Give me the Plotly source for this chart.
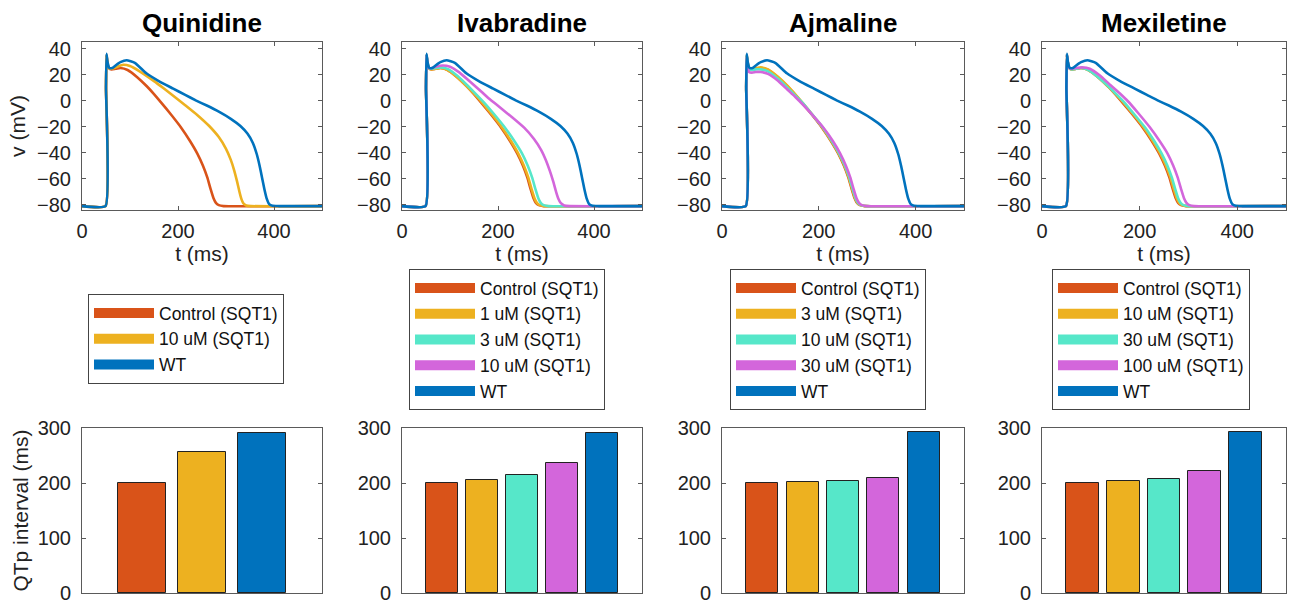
import plotly.graph_objects as go

W, H = 1291, 607
FONT = "Liberation Sans, Arial, Helvetica, sans-serif"

# ---------------- data ----------------
DRUGS = ["Quinidine", "Ivabradine", "Ajmaline", "Mexiletine"]

# Control (SQT1)
T_CTRL = [0, 49, 50, 51, 53, 56, 62, 70, 80, 95, 115, 135, 150, 165, 185, 207, 225, 240, 252, 261, 268, 274, 279, 285, 295, 500]
V_CTRL = [-81, -81, 10, 35, 29, 25, 24, 24.5, 25, 23.5, 18, 11, 5, -1.5, -10.5, -21, -31, -40.5, -50, -59, -68, -75, -78.5, -80.3, -81, -81]
# WT
T_WT = [0, 49, 50, 51, 53, 57, 63, 70, 80, 93, 110, 134, 160, 190, 215, 238, 260, 285, 310, 330, 345, 356, 364, 370, 375, 380, 385, 390, 397, 410, 500]
V_WT = [-81, -81, 10, 36, 30, 25, 25, 27, 29.5, 31, 29, 21, 15, 9.2, 4.4, 0, -3.8, -8.5, -14, -19.5, -25.5, -32.5, -41, -50, -59, -68, -75.5, -79.5, -80.8, -81, -81]
# Quinidine 10 uM
T_Q10 = [0, 49, 50, 51, 53, 56, 62, 70, 86, 100, 120, 150, 170, 190, 215, 240, 265, 285, 300, 310, 317, 323, 328, 332, 336, 342, 352, 500]
V_Q10 = [-81, -81, 10, 35, 29, 25, 24.5, 25.5, 27.5, 26.5, 22.5, 15, 9.5, 3.8, -3.5, -11, -19.5, -28, -37, -45.5, -53.5, -62, -70, -75.5, -78.8, -80.5, -81, -81]
# Ivabradine
T_I1 = [0, 49, 50, 51, 53, 56, 62, 70, 80, 95, 115, 135, 151, 167, 187, 209, 227, 242, 254, 263, 270, 276, 281, 287, 297, 500]
V_I1 = [-81, -81, 10, 35, 29, 25, 24, 24.5, 25, 23.5, 18, 11, 5, -1.5, -10.5, -21, -31, -40.5, -50, -59, -68, -75, -78.5, -80.3, -81, -81]
T_I3 = [0, 49, 50, 51, 53, 56, 62, 70, 82, 97, 117, 138, 154, 171, 192, 215, 234, 250, 262, 271, 278, 284, 289, 295, 305, 500]
V_I3 = [-81, -81, 10, 35, 29, 25, 24.5, 25, 25.5, 24, 18.5, 11, 5, -1.5, -10.5, -21, -31, -40.5, -50, -59, -68, -75, -78.5, -80.3, -81, -81]
T_I10 = [0, 49, 50, 51, 53, 56, 62, 70, 85, 100, 120, 145, 165, 183, 205, 230, 255, 275, 290, 300, 308, 315, 321, 326, 331, 338, 350, 500]
V_I10 = [-81, -81, 10, 35, 29, 25, 25, 26, 27, 26, 21.5, 13.5, 7, 1, -5.5, -13, -21, -29.5, -38, -46, -54, -62, -70, -75.5, -78.8, -80.5, -81, -81]
# Ajmaline
T_A3 = [0, 49, 50, 51, 53, 56, 62, 70, 80, 95, 115, 135, 151, 166, 186, 208, 226, 241, 253, 262, 269, 275, 280, 286, 296, 500]
V_A3 = [-81, -81, 10, 35, 29, 25, 24.5, 25, 25.5, 24, 18.5, 11.5, 5, -1.5, -10.5, -21, -31, -40.5, -50, -59, -68, -75, -78.5, -80.3, -81, -81]
T_A10 = [0, 49, 50, 51, 53, 56, 62, 70, 80, 95, 115, 135, 151, 167, 187, 209, 227, 242, 254, 263, 270, 276, 281, 287, 297, 500]
V_A10 = [-81, -81, 10, 35, 28, 24, 23.5, 24, 24, 22.5, 17, 10, 4, -2, -11, -21, -31, -40.5, -50, -59, -68, -75, -78.5, -80.3, -81, -81]
T_A30 = [0, 49, 50, 51, 53, 56, 62, 70, 80, 95, 115, 135, 151, 167, 188, 210, 229, 244, 256, 265, 272, 278, 283, 289, 299, 500]
V_A30 = [-81, -81, 10, 34, 26, 22, 21.5, 22, 22, 20.5, 15.5, 8.5, 3, -3, -11.5, -21, -31, -40.5, -50, -59, -68, -75, -78.5, -80.3, -81, -81]
# Mexiletine
T_M10 = [0, 49, 50, 51, 53, 56, 62, 70, 80, 95, 115, 135, 151, 167, 187, 209, 227, 242, 254, 263, 270, 276, 281, 287, 297, 500]
V_M10 = [-81, -81, 10, 35, 29, 25, 24, 24.5, 25, 23.5, 18, 11, 5, -1.5, -10.5, -21, -31, -40.5, -50, -59, -68, -75, -78.5, -80.3, -81, -81]
T_M30 = [0, 49, 50, 51, 53, 56, 62, 70, 80, 95, 115, 136, 152, 169, 189, 212, 230, 245, 257, 266, 273, 279, 284, 290, 300, 500]
V_M30 = [-81, -81, 10, 35, 29, 25, 24, 24.5, 25, 23.5, 18, 11, 5, -1.5, -10.5, -21, -31, -40.5, -50, -59, -68, -75, -78.5, -80.3, -81, -81]
T_M100 = [0, 49, 50, 51, 53, 56, 62, 70, 82, 98, 118, 140, 158, 176, 197, 221, 241, 257, 269, 278, 285, 291, 296, 302, 312, 500]
V_M100 = [-81, -81, 10, 35, 29, 25, 24.5, 25, 25.5, 24.5, 19.5, 12, 6, -0.5, -9.5, -20.5, -31, -40.5, -50, -59, -68, -75, -78.5, -80.3, -81, -81]

LABELS_Q = ["Control (SQT1)", "10 uM (SQT1)", "WT"]
LABELS_I = ["Control (SQT1)", "1 uM (SQT1)", "3 uM (SQT1)", "10 uM (SQT1)", "WT"]
LABELS_A = ["Control (SQT1)", "3 uM (SQT1)", "10 uM (SQT1)", "30 uM (SQT1)", "WT"]
LABELS_M = ["Control (SQT1)", "10 uM (SQT1)", "30 uM (SQT1)", "100 uM (SQT1)", "WT"]

QTP_Q = [200, 257, 291]
QTP_I = [200, 206, 215, 237, 291]
QTP_A = [200, 201, 204, 209, 292]
QTP_M = [200, 203, 208, 221, 292]

X_TICKS = [0, 200, 400]
V_TICKS = [-80, -60, -40, -20, 0, 20, 40]
QTP_TICKS = [0, 100, 200, 300]

# ---------------- styling ----------------
C_CTRL = "#D95319"
C_YEL = "#EDB120"
C_TEAL = "#56E7C9"
C_MAG = "#D366DB"
C_WT = "#0072BD"
COL3 = [C_CTRL, C_YEL, C_WT]
COL5 = [C_CTRL, C_YEL, C_TEAL, C_MAG, C_WT]

panels = [
    (DRUGS[0], [(T_CTRL, V_CTRL), (T_Q10, V_Q10), (T_WT, V_WT)], LABELS_Q, QTP_Q, COL3),
    (DRUGS[1], [(T_CTRL, V_CTRL), (T_I1, V_I1), (T_I3, V_I3), (T_I10, V_I10), (T_WT, V_WT)], LABELS_I, QTP_I, COL5),
    (DRUGS[2], [(T_CTRL, V_CTRL), (T_A3, V_A3), (T_A10, V_A10), (T_A30, V_A30), (T_WT, V_WT)], LABELS_A, QTP_A, COL5),
    (DRUGS[3], [(T_CTRL, V_CTRL), (T_M10, V_M10), (T_M30, V_M30), (T_M100, V_M100), (T_WT, V_WT)], LABELS_M, QTP_M, COL5),
]

X_PX = [(82, 322), (402, 642), (722, 964), (1042, 1286)]
TOP_PX = (42, 210)
BOT_PX = (428, 593)
LEG_PX = [(88, 294), (409, 269), (730, 269), (1052, 269)]

def xd(a, b):
    return [a / W, b / W]

def yd(top, bot):
    return [1 - bot / H, 1 - top / H]

AX_COLOR = "#5a5a5a"
common = dict(showline=True, linecolor=AX_COLOR, linewidth=1, mirror="ticks",
              ticks="inside", ticklen=4, tickcolor=AX_COLOR, showgrid=False,
              zeroline=False, automargin=False,
              tickfont=dict(size=20, color="#222", family=FONT))

fig = go.Figure()
layout = dict(width=W, height=H, margin=dict(l=0, r=0, t=0, b=0, autoexpand=False),
              paper_bgcolor="white", plot_bgcolor="white", showlegend=True,
              font=dict(family=FONT, color="#222"))
annotations = []

for i, (name, curves, labels, qtp, cols) in enumerate(panels):
    top_x = f"x{i + 1}"
    top_y = f"y{i + 1}"
    bot_x = f"x{i + 5}"
    bot_y = f"y{i + 5}"
    leg = "legend" if i == 0 else f"legend{i + 1}"
    for (t, v), c in zip(curves, cols):
        fig.add_trace(go.Scatter(x=t, y=v, mode="lines", line=dict(color=c, width=2.6, shape="spline", smoothing=0.4),
                                 xaxis=top_x, yaxis=top_y, showlegend=False, hoverinfo="skip"))
    for lab, c in zip(labels, cols):
        fig.add_trace(go.Scatter(x=[None], y=[None], mode="lines", line=dict(color=c, width=10),
                                 name=lab, legend=leg, xaxis=top_x, yaxis=top_y))
    fig.add_trace(go.Bar(x=list(range(1, len(qtp) + 1)), y=qtp, width=0.8,
                         marker=dict(color=cols, line=dict(color="#222", width=1)),
                         xaxis=bot_x, yaxis=bot_y, showlegend=False))

    a, b = X_PX[i]
    k = "" if i == 0 else str(i + 1)
    layout[f"xaxis{k}"] = dict(common, domain=xd(a, b), anchor=top_y, range=[0, 500],
                               tickvals=X_TICKS, ticklabelstandoff=3,
                               title=dict(text="t (ms)", font=dict(size=21, color="#222"), standoff=4))
    layout[f"yaxis{k}"] = dict(common, domain=yd(*TOP_PX), anchor=top_x, range=[-84, 45],
                               tickvals=V_TICKS, ticklabelstandoff=6)
    if i == 0:
        layout[f"yaxis{k}"]["title"] = dict(text="v (mV)", font=dict(size=21, color="#222"), standoff=5)
    kb = str(i + 5)
    layout[f"xaxis{kb}"] = dict(common, domain=xd(a, b), anchor=bot_y, range=[0, len(qtp) + 1],
                                ticks="", showticklabels=False)
    layout[f"yaxis{kb}"] = dict(common, domain=yd(*BOT_PX), anchor=bot_x, range=[0, 300],
                                tickvals=QTP_TICKS, ticklabelstandoff=6)
    if i == 0:
        layout[f"yaxis{kb}"]["title"] = dict(text="QTp interval (ms)", font=dict(size=21, color="#222"), standoff=3)

    lx, ly = LEG_PX[i]
    layout[leg] = dict(x=lx / W, y=1 - ly / H, xanchor="left", yanchor="top",
                       bordercolor="#444", borderwidth=1, bgcolor="white",
                       font=dict(size=17.5, color="#111", family=FONT),
                       itemwidth=60, tracegroupgap=0, traceorder="normal")

    annotations.append(dict(text=f"<b>{name}</b>", x=(a + b) / 2 / W, y=1 - 23 / H,
                            xref="paper", yref="paper", xanchor="center", yanchor="middle",
                            showarrow=False, font=dict(size=26, color="#000", family=FONT)))

layout["annotations"] = annotations
layout["bargap"] = 0
fig.update_layout(**layout)
fig.write_html("out.html")
